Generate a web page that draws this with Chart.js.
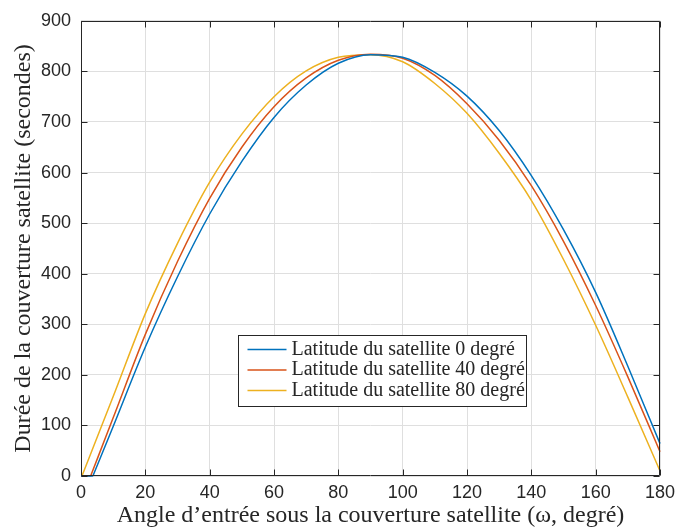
<!DOCTYPE html>
<html>
<head>
<meta charset="utf-8">
<script src="https://cdn.jsdelivr.net/npm/chart.js@4.4.0/dist/chart.umd.min.js"></script>
<style>
  html, body { margin: 0; padding: 0; background: #fff; }
</style>
</head>
<body>
<canvas id="couverture" width="676" height="528"></canvas>
<script>
// angle d'entrée (degré) et durée de couverture (secondes)
const angles = [10, 20, 30, 40, 50, 60, 70, 80, 90, 100, 110, 120, 130, 140, 150, 160, 170, 180];
const startAngles = [3.7, 3.0, 0.3]; // la courbe quitte 0 ici
const lat0 = [98, 255, 394, 518, 622, 709, 773, 816, 833, 828, 798, 751, 683, 594, 487, 363, 217, 64];
const lat40 = [115, 280, 424, 549, 650, 730, 787, 822, 834, 826, 792, 736, 664, 574, 464, 337, 196, 48];
const lat80 = [157, 321, 460, 581, 676, 750, 801, 828, 833, 819, 776, 717, 638, 545, 428, 298, 156, 10];
const labels = ['Latitude du satellite 0 degré', 'Latitude du satellite 40 degré', 'Latitude du satellite 80 degré'];
const colors = ['#0072BD', '#D95319', '#EDB120'];
const xTicks = [0, 20, 40, 60, 80, 100, 120, 140, 160, 180];
const yTicks = [0, 100, 200, 300, 400, 500, 600, 700, 800, 900];

const axisColor = '#262626';

function buildSeries(start, values) {
  // segment plat sur l'axe, coupure, puis la courbe
  const pts = [{x: 0, y: 0}, {x: start, y: 0}, {x: start, y: null}, {x: start, y: 0}];
  angles.forEach((a, i) => pts.push({x: a, y: values[i]}));
  return pts;
}

const series = [lat0, lat40, lat80];

const datasets = series.map((vals, i) => ({
  label: labels[i],
  data: buildSeries(startAngles[i], vals),
  borderColor: colors[i],
  borderWidth: 1.5,
  pointRadius: 0,
  fill: false,
  cubicInterpolationMode: 'monotone',
  spanGaps: false,
  clip: 3
}));

// cadre, graduations intérieures et légende façon MATLAB
const matlabBox = {
  id: 'matlabBox',
  afterDraw(chart) {
    const {ctx, chartArea: a, scales: {x, y}} = chart;
    const L = Math.round(a.left) + 0.5, R = Math.round(a.right) - 0.5;
    const T = Math.round(a.top) + 0.5, B = Math.round(a.bottom) - 0.5;
    ctx.save();
    ctx.strokeStyle = axisColor;
    ctx.lineWidth = 1;
    ctx.beginPath();
    ctx.rect(L, T, R - L, B - T);
    xTicks.forEach(v => {
      const px = Math.round(x.getPixelForValue(v)) + 0.5;
      ctx.moveTo(px, B); ctx.lineTo(px, B - 6);
      ctx.moveTo(px, T); ctx.lineTo(px, T + 6);
    });
    yTicks.forEach(v => {
      const py = Math.round(y.getPixelForValue(v)) + 0.5;
      ctx.moveTo(L, py); ctx.lineTo(L + 6, py);
      ctx.moveTo(R, py); ctx.lineTo(R - 6, py);
    });
    ctx.stroke();

    // légende
    const lx = 238.5, ly = 335.5, lw = 288, lh = 71;
    ctx.fillStyle = '#ffffff';
    ctx.fillRect(lx, ly, lw, lh);
    ctx.strokeStyle = axisColor;
    ctx.strokeRect(lx, ly, lw, lh);
    ctx.font = '20px "Liberation Serif", "Times New Roman", serif';
    ctx.textBaseline = 'middle';
    ctx.fillStyle = axisColor;
    chart.data.datasets.forEach((ds, i) => {
      const cy = ly + 14 + i * 20.5;
      ctx.strokeStyle = ds.borderColor;
      ctx.lineWidth = 1.5;
      ctx.beginPath();
      ctx.moveTo(lx + 9, cy); ctx.lineTo(lx + 48, cy);
      ctx.stroke();
      ctx.fillText(ds.label, lx + 53, cy);
    });
    ctx.restore();
  }
};

const tickFont = {family: '"Liberation Sans", Arial, sans-serif', size: 18};
const serif = '"Liberation Serif", "Times New Roman", serif';

const config = {
  type: 'line',
  data: {datasets: datasets},
  options: {
    responsive: false,
    animation: false,
    devicePixelRatio: 1,
    layout: {padding: {left: 0, top: 20, right: 16, bottom: 0}},
    plugins: {
      legend: {display: false},
      tooltip: {enabled: false}
    },
    scales: {
      x: {
        type: 'linear',
        min: 0,
        max: 180,
        afterFit: (scale) => {
          scale.height = 52;
          scale.paddingLeft = 0;
          scale.paddingRight = 0;
        },
        ticks: {stepSize: 20, color: axisColor, font: tickFont, padding: 6, maxRotation: 0},
        grid: {color: '#dfdfdf', drawTicks: false},
        border: {display: false},
        title: {
          display: true,
          text: 'Angle d\u2019entrée sous la couverture satellite (ω, degré)',
          color: axisColor,
          font: {family: serif, size: 24},
          padding: {top: 0, bottom: -2}
        }
      },
      y: {
        min: 0,
        max: 900,
        afterFit: (scale) => { scale.width = 81; },
        ticks: {stepSize: 100, color: axisColor, font: tickFont, padding: 10},
        grid: {color: '#dfdfdf', drawTicks: false},
        border: {display: false},
        title: {
          display: true,
          text: 'Durée de la couverture satellite (secondes)',
          color: axisColor,
          font: {family: serif, size: 24},
          padding: {top: 9, bottom: 0}
        }
      }
    }
  },
  plugins: [matlabBox]
};

const courbe = new Chart(document.getElementById('couverture'), config);
</script>
</body>
</html>
